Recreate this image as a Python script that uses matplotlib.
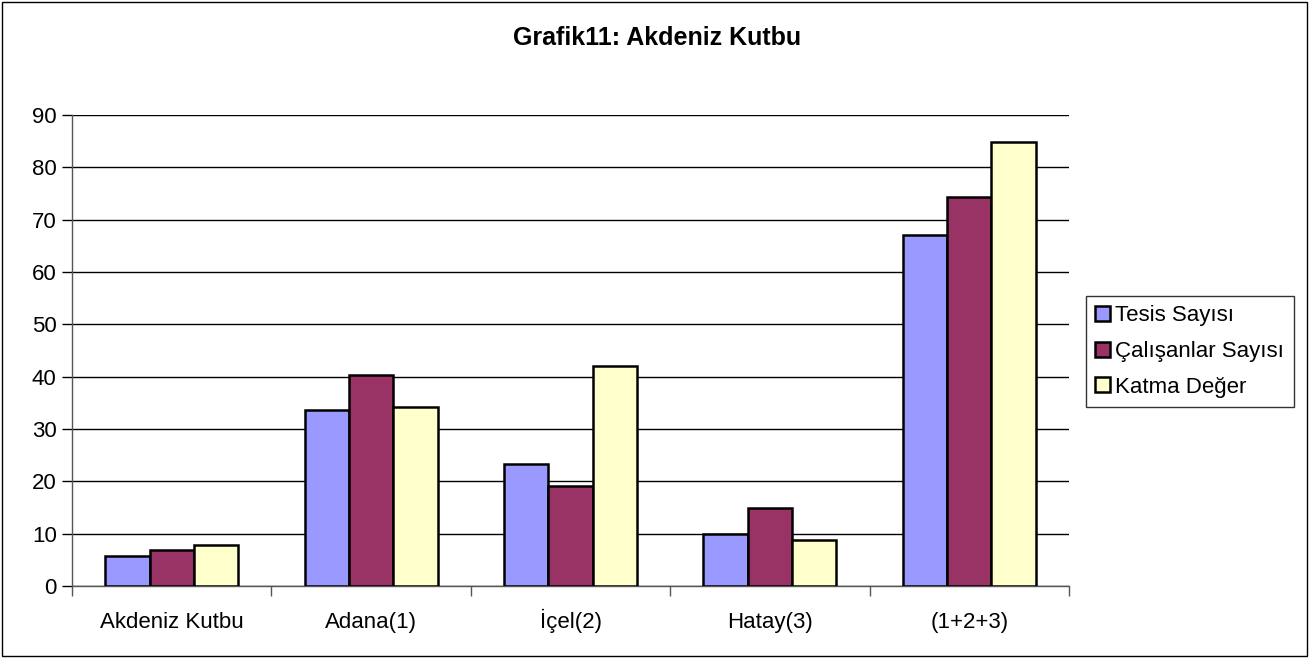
import numpy as np
import matplotlib
matplotlib.use('Agg')
import matplotlib.pyplot as plt
from matplotlib.patches import Rectangle

plt.rcParams['font.family'] = ['Liberation Sans', 'DejaVu Sans']

categories = ['Akdeniz Kutbu', 'Adana(1)', 'İçel(2)', 'Hatay(3)', '(1+2+3)']
series_names = ['Tesis Sayısı', 'Çalışanlar Sayısı', 'Katma Değer']
tesis = [5.8, 33.6, 23.4, 10.0, 67.0]
calisan = [6.8, 40.3, 19.2, 15.0, 74.3]
katma = [7.9, 34.2, 42.1, 8.8, 84.9]
colors = ['#9999FF', '#993366', '#FFFFCC']

W, H = 1316, 658
fig = plt.figure(figsize=(W / 100, H / 100), dpi=100)
ax = fig.add_axes([72 / W, 1 - 586 / H, (1069 - 72) / W, (586 - 115) / H])

x = np.arange(len(categories))
bw = 0.222
for i, (vals, name, col) in enumerate(zip([tesis, calisan, katma], series_names, colors)):
    ax.bar(x + (i - 1) * bw, vals, width=bw, color=col, edgecolor='black',
           linewidth=1.8, label=name, zorder=3)

ax.set_xlim(-0.5, len(categories) - 0.5)
ax.set_ylim(0, 90)
ax.set_yticks(range(0, 91, 10))
ax.yaxis.grid(True, color='black', linewidth=1.0, zorder=0)
ax.set_xticks(x)
ax.set_xticklabels(categories, va='baseline')
ax.set_xticks(np.arange(-0.5, len(categories), 1), minor=True)
ax.tick_params(axis='x', which='major', length=0, pad=30, labelsize=16)
ax.tick_params(axis='x', which='minor', length=7, width=1, color='#555555', direction='out')
ax.tick_params(axis='y', length=7, width=1, color='black', direction='out', labelsize=16, pad=4)
for s in ['top', 'right']:
    ax.spines[s].set_visible(False)
ax.spines['left'].set_color('#555555')
ax.spines['bottom'].set_color('#555555')
ax.spines['left'].set_linewidth(1)
ax.spines['bottom'].set_linewidth(1)

fig.text(657 / W, 1 - 38 / H, 'Grafik11: Akdeniz Kutbu', ha='center', va='center',
         fontsize=18, fontweight='bold')

handles, labels = ax.get_legend_handles_labels()
leg = fig.legend(handles, labels, loc='upper left', bbox_to_anchor=(1086 / W, 1 - 296 / H),
                 frameon=True, fancybox=False, edgecolor='black', fontsize=16,
                 handlelength=0.65, handleheight=0.65, handletextpad=0.25,
                 borderpad=0.42, labelspacing=0.66, borderaxespad=0)
leg.get_frame().set_linewidth(1)
for p in leg.get_patches():
    p.set_linewidth(1.8)

fig.patches.append(Rectangle((2 / W, 2 / H), (1307 - 2) / W, (656 - 2) / H,
                             transform=fig.transFigure, fill=False,
                             edgecolor='black', linewidth=1))

fig.savefig('out.png', dpi=100)
